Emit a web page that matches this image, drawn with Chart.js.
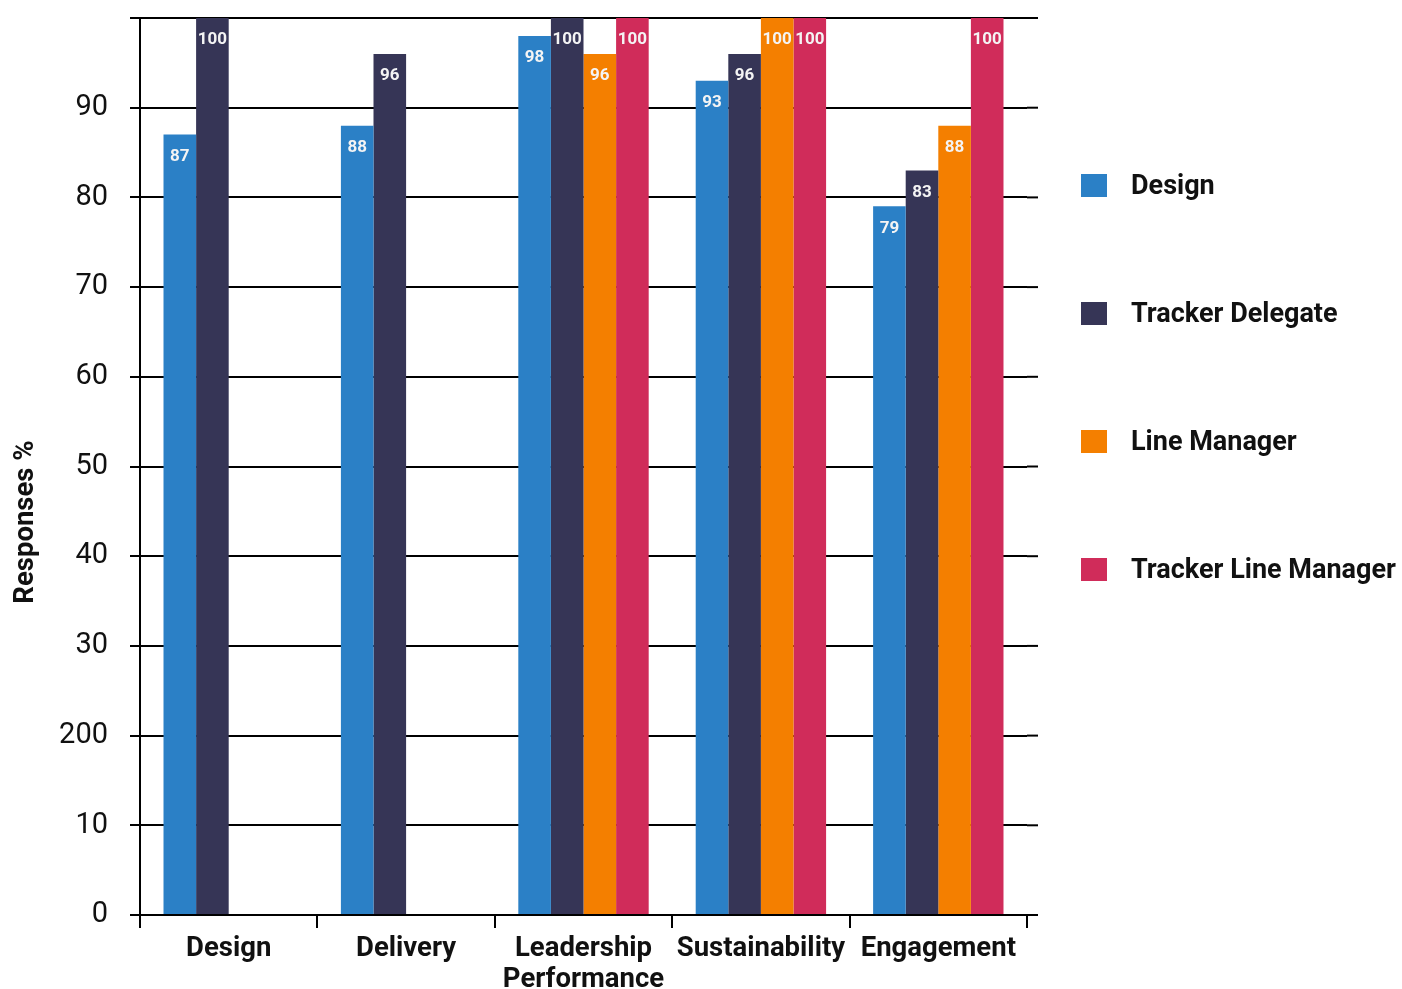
<!DOCTYPE html>
<html>
<head>
<meta charset="utf-8">
<script src="https://cdn.jsdelivr.net/npm/chart.js@4/dist/chart.umd.min.js"></script>
<style>
  html, body { margin: 0; padding: 0; background: #fff; }
  #wrap { position: relative; width: 1402px; height: 989px; }
  #legend { position: absolute; left: 1081px; top: 172px; font-family: Roboto, sans-serif; }
  .item { position: absolute; left: 0; display: flex; align-items: center; white-space: nowrap; }
  .box { width: 26px; height: 23px; margin-right: 24px; }
  .txt { font-size: 27px; font-weight: bold; color: #111; }
</style>
</head>
<body>
<div id="wrap">
  <canvas id="chart" width="1402" height="989"></canvas>
  <div id="legend"></div>
</div>
<script>
// categorias y series
const categories = ['Design', 'Delivery', ['Leadership', 'Performance'], 'Sustainability', 'Engagement'];
const seriesNames = ['Design', 'Tracker Delegate', 'Line Manager', 'Tracker Line Manager'];
const seriesColors = ['#2b80c6', '#363556', '#f47f00', '#d02c5a'];

const designValues = [87, 88, 98, 93, 79];
const trackerDelegateValues = [100, 96, 100, 96, 83];
const lineManagerValues = [null, null, 96, 100, 88];
const trackerLineManagerValues = [null, null, 100, 100, 100];

// la etiqueta "200" esta asi en el original
const yTickLabels = ['0', '10', '200', '30', '40', '50', '60', '70', '80', '90', ''];

const allValues = [designValues, trackerDelegateValues, lineManagerValues, trackerLineManagerValues];

// etiquetas dentro de las barras
const barLabels = {
    id: 'barLabels',
    afterDatasetsDraw(chart) {
        const ctx = chart.ctx;
        ctx.save();
        ctx.font = 'bold 17px Roboto, sans-serif';
        ctx.fillStyle = '#f4f4f4';
        ctx.textAlign = 'center';
        ctx.textBaseline = 'middle';
        chart.data.datasets.forEach((ds, i) => {
            chart.getDatasetMeta(i).data.forEach((bar, j) => {
                const v = ds.data[j];
                if (v === null) return;
                ctx.fillText(String(v), bar.x, bar.y + 22);
            });
        });
        ctx.restore();
    }
};

// lineas de la grilla un poco mas largas a la derecha, y el titulo del eje
const extras = {
    id: 'extras',
    afterDraw(chart) {
        const ctx = chart.ctx;
        const area = chart.chartArea;
        const y = chart.scales.y;
        ctx.save();
        ctx.strokeStyle = '#000';
        ctx.lineWidth = 2;
        y.ticks.forEach(t => {
            const py = y.getPixelForValue(t.value);
            ctx.beginPath();
            ctx.moveTo(area.right, py);
            ctx.lineTo(area.right + 11, py);
            ctx.stroke();
        });
        ctx.translate(26, 522);
        ctx.rotate(-Math.PI / 2);
        ctx.font = 'bold 27.5px Roboto, sans-serif';
        ctx.fillStyle = '#111';
        ctx.textAlign = 'center';
        ctx.textBaseline = 'middle';
        ctx.fillText('Responses %', 0, 0);
        ctx.restore();
    }
};

new Chart(document.getElementById('chart'), {
    type: 'bar',
    data: {
        labels: categories,
        datasets: seriesNames.map((name, i) => ({
            label: name,
            data: allValues[i],
            backgroundColor: seriesColors[i],
            borderWidth: 0,
            categoryPercentage: 0.735,
            barPercentage: 1
        }))
    },
    options: {
        responsive: false,
        animation: false,
        layout: { padding: { left: 0, top: 18, right: 375, bottom: 0 } },
        plugins: {
            legend: { display: false },
            tooltip: { enabled: false }
        },
        scales: {
            x: {
                grid: { drawOnChartArea: false, drawTicks: true, tickLength: 13, color: '#000', lineWidth: 2, offset: true },
                border: { color: '#000', width: 2 },
                ticks: {
                    color: '#111',
                    font: { family: 'Roboto, sans-serif', size: 27.5, weight: 'bold', lineHeight: 1.15 },
                    padding: 5,
                    maxRotation: 0,
                    autoSkip: false
                },
                afterFit(scale) {
                    scale.height = 74;
                    scale.paddingLeft = 0;
                    scale.paddingRight = 0;
                }
            },
            y: {
                min: 0,
                max: 100,
                ticks: {
                    stepSize: 10,
                    color: '#111',
                    font: { family: 'Roboto, sans-serif', size: 29 },
                    padding: 22,
                    callback: (v, i) => yTickLabels[i]
                },
                grid: { color: '#000', lineWidth: 2, tickLength: 10 },
                border: { color: '#000', width: 2 },
                afterFit(scale) {
                    scale.width = 140;
                    scale.paddingTop = 0;
                    scale.paddingBottom = 0;
                }
            }
        }
    },
    plugins: [barLabels, extras]
});

// leyenda en html
const legend = document.getElementById('legend');
seriesNames.forEach((name, i) => {
    const row = document.createElement('div');
    row.className = 'item';
    row.style.top = (i * 128 - 3) + 'px';
    row.innerHTML = '<div class="box" style="background:' + seriesColors[i] + '"></div><span class="txt">' + name + '</span>';
    legend.appendChild(row);
});
</script>
</body>
</html>
